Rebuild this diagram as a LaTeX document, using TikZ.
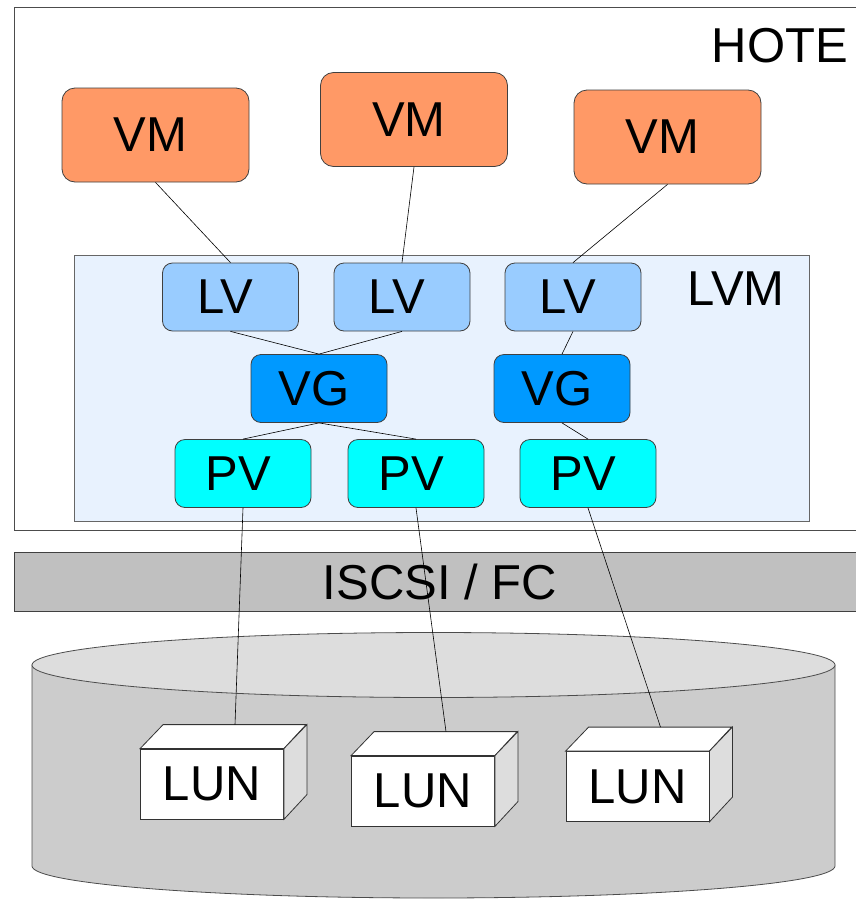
\documentclass[tikz,border=0pt]{standalone}
\usepackage{fontspec}
\setmainfont{Liberation Sans}
\usepackage{xcolor}
\usepackage{tikz}
\usetikzlibrary{positioning,calc}

\definecolor{vmorange}{HTML}{FF9966}
\definecolor{lvblue}{HTML}{99CCFF}
\definecolor{vgblue}{HTML}{0099FF}
\definecolor{pvcyan}{HTML}{00FFFF}
\definecolor{lvmfill}{HTML}{E8F2FE}
\definecolor{bandgray}{HTML}{C0C0C0}
\definecolor{diskgray}{HTML}{CCCCCC}
\definecolor{disktop}{HTML}{DDDDDD}

\newcommand{\biglabel}{\fontsize{49}{52}\selectfont}

\tikzset{
    layerbox/.style={draw=black!75, line width=0.8pt, rounded corners=10pt,
        minimum width=136pt, minimum height=68pt, font=\biglabel,
        execute at begin node={\hspace*{-10pt}}},
    vmbox/.style={layerbox, fill=vmorange, rounded corners=13pt,
        minimum width=187pt, minimum height=94pt},
    lvbox/.style={layerbox, fill=lvblue},
    vgbox/.style={layerbox, fill=vgblue},
    pvbox/.style={layerbox, fill=pvcyan},
    lunface/.style={draw=black!80, line width=0.8pt, fill=white,
        minimum width=143pt, minimum height=70pt, font=\biglabel},
    link/.style={draw=black, line width=0.6pt},
    title/.style={font=\biglabel}
}

\begin{document}
\begin{tikzpicture}[x=1pt,y=-1pt]
    \useasboundingbox (0,0) rectangle (855,900);

    % Host and LVM frames
    \draw[draw=black!70, line width=0.8pt, fill=white] (14.5,7.5) rectangle (880,530);
    \draw[draw=black!60, line width=0.8pt, fill=lvmfill] (74.5,255.5) rectangle (809,521);
    \node[title] (hote) at (780,46) {HOTE};
    \node[title] (lvm) at (736,289) {LVM};

    % SAN band
    \draw[draw=black!75, line width=0.8pt, fill=bandgray] (14.5,552) rectangle (880,611);
    \node[title] (san) at (440,582) {ISCSI / FC};

    % Storage array
    \draw[draw=black!70, line width=0.8pt, fill=diskgray]
        (32,665) -- (32,866) arc[start angle=180, end angle=0, x radius=401.5, y radius=32]
        -- (835,665) -- cycle;
    \draw[draw=black!70, line width=0.8pt, fill=disktop] (433.5,665) ellipse [x radius=401.5, y radius=32.5];

    % Virtual machines
    \node[vmbox] (vm1) at (155.5,135) {VM};
    \node[vmbox] (vm2) at (414,119.5) {VM};
    \node[vmbox] (vm3) at (667.5,137) {VM};

    % Logical volumes, volume groups, physical volumes
    \node[lvbox] (lv1) at (230.5,297) {LV};
    \node[lvbox] (lv2) at (402,297) {LV};
    \node[lvbox] (lv3) at (573,297) {LV};
    \node[vgbox] (vg1) at (319,388.5) {VG};
    \node[vgbox] (vg2) at (562,388.5) {VG};
    \node[pvbox] (pv1) at (243,473.5) {PV};
    \node[pvbox] (pv2) at (416,473.5) {PV};
    \node[pvbox] (pv3) at (588,473.5) {PV};

    % LUN cubes
    \node[lunface] (lun1) at (212,784) {LUN};
    \node[lunface] (lun2) at (423,791) {LUN};
    \node[lunface] (lun3) at (637.5,786.5) {LUN};
    \foreach \n in {lun1,lun2,lun3} {
        \draw[draw=black!80, line width=0.8pt, fill=white]
            (\n.north west) -- ++(23,-24) -- ++(143,0) -- (\n.north east) -- cycle;
        \draw[draw=black!80, line width=0.8pt, fill=disktop]
            (\n.north east) -- ++(23,-24) -- ++(0,70) -- (\n.south east) -- cycle;
        \coordinate (\n top) at ($(\n.north)+(23,-24)$);
    }

    % Links
    \draw[link] (vm1.south) -- (lv1.north);
    \draw[link] (vm2.south) -- (lv2.north);
    \draw[link] (vm3.south) -- (lv3.north);
    \draw[link] (lv1.south) -- (vg1.north);
    \draw[link] (lv2.south) -- (vg1.north);
    \draw[link] (lv3.south) -- (vg2.north);
    \draw[link] (vg1.south) -- (pv1.north);
    \draw[link] (vg1.south) -- (pv2.north);
    \draw[link] (vg2.south) -- (pv3.north);
    \draw[link] (pv1.south) -- (lun1top);
    \draw[link] (pv2.south) -- (lun2top);
    \draw[link] (pv3.south) -- (lun3top);
\end{tikzpicture}
\end{document}
